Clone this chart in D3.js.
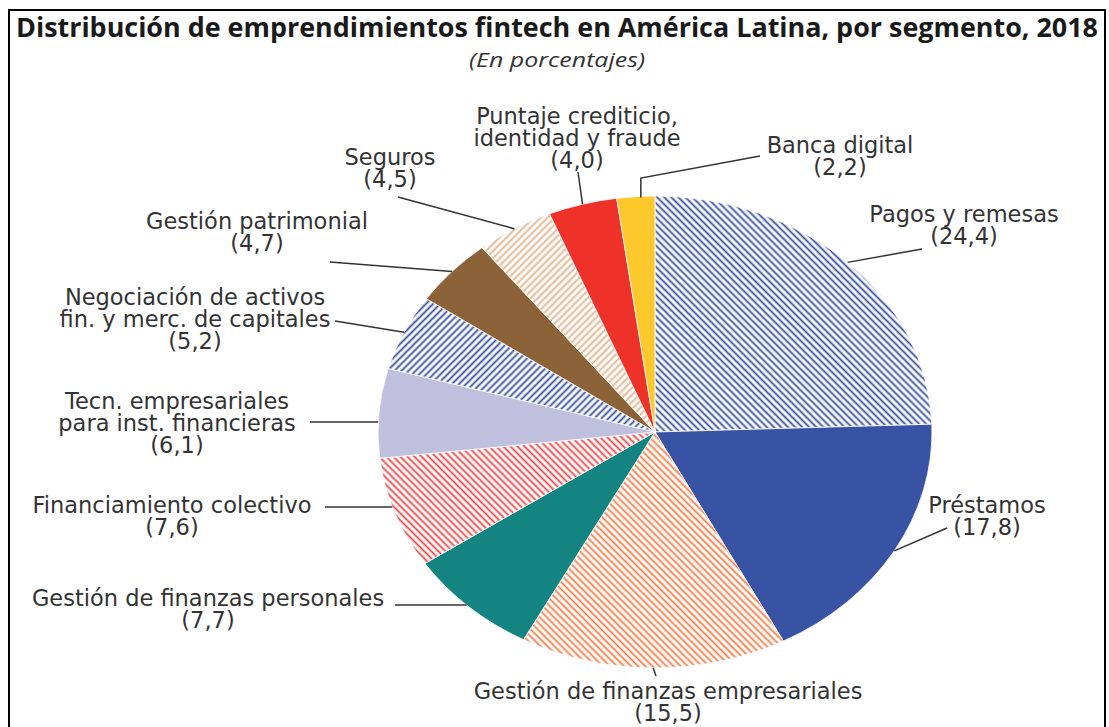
<!DOCTYPE html>
<html>
<head>
<meta charset="utf-8">
<script src="https://cdn.jsdelivr.net/npm/d3@7"></script>
<style>
  body { margin: 0; background: #fff; }
  svg { display: block; }
</style>
</head>
<body>
<div id="vis"></div>
<script>
// data (percentages), clockwise from 12 o'clock
var categories = [
  "Pagos y remesas", "Préstamos", "Gestión de finanzas empresariales",
  "Gestión de finanzas personales", "Financiamiento colectivo",
  "Tecn. empresariales para inst. financieras",
  "Negociación de activos fin. y merc. de capitales",
  "Gestión patrimonial", "Seguros",
  "Puntaje crediticio, identidad y fraude", "Banca digital"
];
var values = [24.4, 17.8, 15.5, 7.7, 7.6, 6.1, 5.2, 4.7, 4.5, 4.0, 2.2];
var valueLabels = ["(24,4)", "(17,8)", "(15,5)", "(7,7)", "(7,6)", "(6,1)", "(5,2)", "(4,7)", "(4,5)", "(4,0)", "(2,2)"];
var labelLines = [
  ["Pagos y remesas"],
  ["Préstamos"],
  ["Gestión de finanzas empresariales"],
  ["Gestión de finanzas personales"],
  ["Financiamiento colectivo"],
  ["Tecn. empresariales", "para inst. financieras"],
  ["Negociación de activos", "fin. y merc. de capitales"],
  ["Gestión patrimonial"],
  ["Seguros"],
  ["Puntaje crediticio,", "identidad y fraude"],
  ["Banca digital"]
];

var title = "Distribución de emprendimientos fintech en América Latina, por segmento, 2018";
var subtitle = "(En porcentajes)";

// styling: colour and fill type per slice
var colors = ["#3a53a4", "#3953a4", "#f2804a", "#138482", "#ea4b4b", "#bfbfde",
              "#3a53a4", "#8c6239", "#e3b58f", "#ee3129", "#fdc82c"];
var hatch = ["\\", null, "\\", null, "\\", null, "/", null, "/", null, null];

// label layout: centre x, first baseline, label end of leader
var labelPos = [
  {x: 964, y: 222, lx: 922, ly: 249},
  {x: 987, y: 513, lx: 947, ly: 528},
  {x: 668, y: 699, lx: 656, ly: 676},
  {x: 208, y: 606, lx: 395, ly: 605, horiz: true},
  {x: 172, y: 513, lx: 325, ly: 507, horiz: true},
  {x: 177, y: 409, lx: 310, ly: 422, horiz: true},
  {x: 195, y: 305, lx: 335, ly: 321},
  {x: 257, y: 229, lx: 330, ly: 262},
  {x: 390, y: 165, lx: 398, ly: 197},
  {x: 577, y: 124, lx: 578, ly: 172},
  {x: 840, y: 153, lx: 760, ly: 156, elbowY: 178}
];

var width = 1109, height = 727;
var cx = 655, cy = 432, rx = 277, ry = 236;
var r = ry, sx = rx / ry;

var svg = d3.select("#vis").append("svg")
    .attr("width", width)
    .attr("height", height);

// frame
svg.append("path")
    .attr("d", "M9,727 V10 H1105 V727")
    .attr("fill", "none")
    .attr("stroke", "#000")
    .attr("stroke-width", 2);

svg.append("text")
    .attr("x", 557).attr("y", 37)
    .attr("text-anchor", "middle")
    .attr("textLength", 1082)
    .attr("lengthAdjust", "spacingAndGlyphs")
    .style("font-family", "'Open Sans', sans-serif")
    .style("font-weight", "bold")
    .style("font-size", "26px")
    .style("fill", "#1a1a1a")
    .text(title);

svg.append("text")
    .attr("x", 557).attr("y", 67)
    .attr("text-anchor", "middle")
    .attr("textLength", 176)
    .attr("lengthAdjust", "spacingAndGlyphs")
    .style("font-family", "'Open Sans', sans-serif")
    .style("font-style", "italic")
    .style("font-size", "20px")
    .style("fill", "#333")
    .text(subtitle);

// hatch patterns, compensated for the horizontal stretch of the pie
var defs = svg.append("defs");
hatch.forEach(function(h, i) {
  if (!h) return;
  var p = defs.append("pattern")
      .attr("id", "hatch" + i)
      .attr("patternUnits", "userSpaceOnUse")
      .attr("width", 5).attr("height", 5)
      .attr("patternTransform", "scale(" + (1 / sx) + ",1) rotate(" + (h === "/" ? 45 : -45) + ")");
  p.append("rect").attr("width", 5).attr("height", 5).attr("fill", "#fff");
  p.append("line")
      .attr("x1", 2.5).attr("y1", -1).attr("x2", 2.5).attr("y2", 6)
      .attr("stroke", colors[i])
      .attr("stroke-width", 1.9);
});

var pie = d3.pie().sort(null).value(function(d) { return d; });
var arcs = pie(values);
var arc = d3.arc().innerRadius(0).outerRadius(r);

var g = svg.append("g")
    .attr("transform", "translate(" + cx + "," + cy + ") scale(" + sx + ",1)");

g.selectAll(".slice")
  .data(arcs)
  .enter().append("path")
    .attr("class", "slice")
    .attr("d", arc)
    .attr("fill", function(d, i) { return hatch[i] ? "url(#hatch" + i + ")" : colors[i]; })
    .attr("stroke", "#fff")
    .attr("stroke-width", 0.8)
    .attr("vector-effect", "non-scaling-stroke");

// leader lines to the slice edge at mid angle
function edgePoint(d) {
  var a = (d.startAngle + d.endAngle) / 2;
  return [cx + Math.sin(a) * rx, cy - Math.cos(a) * ry];
}
// left edge of the ellipse at a given height
function edgeAtY(y) {
  var t = (y - cy) / ry;
  return [cx - rx * Math.sqrt(1 - t * t), y];
}

svg.selectAll(".leader")
  .data(arcs)
  .enter().append("polyline")
    .attr("class", "leader")
    .attr("points", function(d, i) {
      var e = edgePoint(d), p = labelPos[i];
      var pts = [[p.lx, p.ly]];
      if (p.elbowY) pts.push([e[0] + 5, p.elbowY], [e[0] + 5, e[1] + 1]);
      else if (p.horiz) pts.push(edgeAtY(p.ly));
      else pts.push(e);
      return pts.map(function(q) { return q.join(","); }).join(" ");
    })
    .attr("fill", "none")
    .attr("stroke", "#333")
    .attr("stroke-width", 1.5);

// labels
var labels = svg.selectAll(".label")
  .data(arcs)
  .enter().append("text")
    .attr("class", "label")
    .attr("text-anchor", "middle")
    .style("font-family", "'DejaVu Sans', Verdana, sans-serif")
    .style("font-size", "22.5px")
    .style("fill", "#333");

labels.each(function(d, i) {
  var t = d3.select(this), p = labelPos[i];
  labelLines[i].concat([valueLabels[i]]).forEach(function(line, k) {
    t.append("tspan")
      .attr("x", p.x)
      .attr("y", p.y + k * 22)
      .text(line);
  });
});
</script>
</body>
</html>
